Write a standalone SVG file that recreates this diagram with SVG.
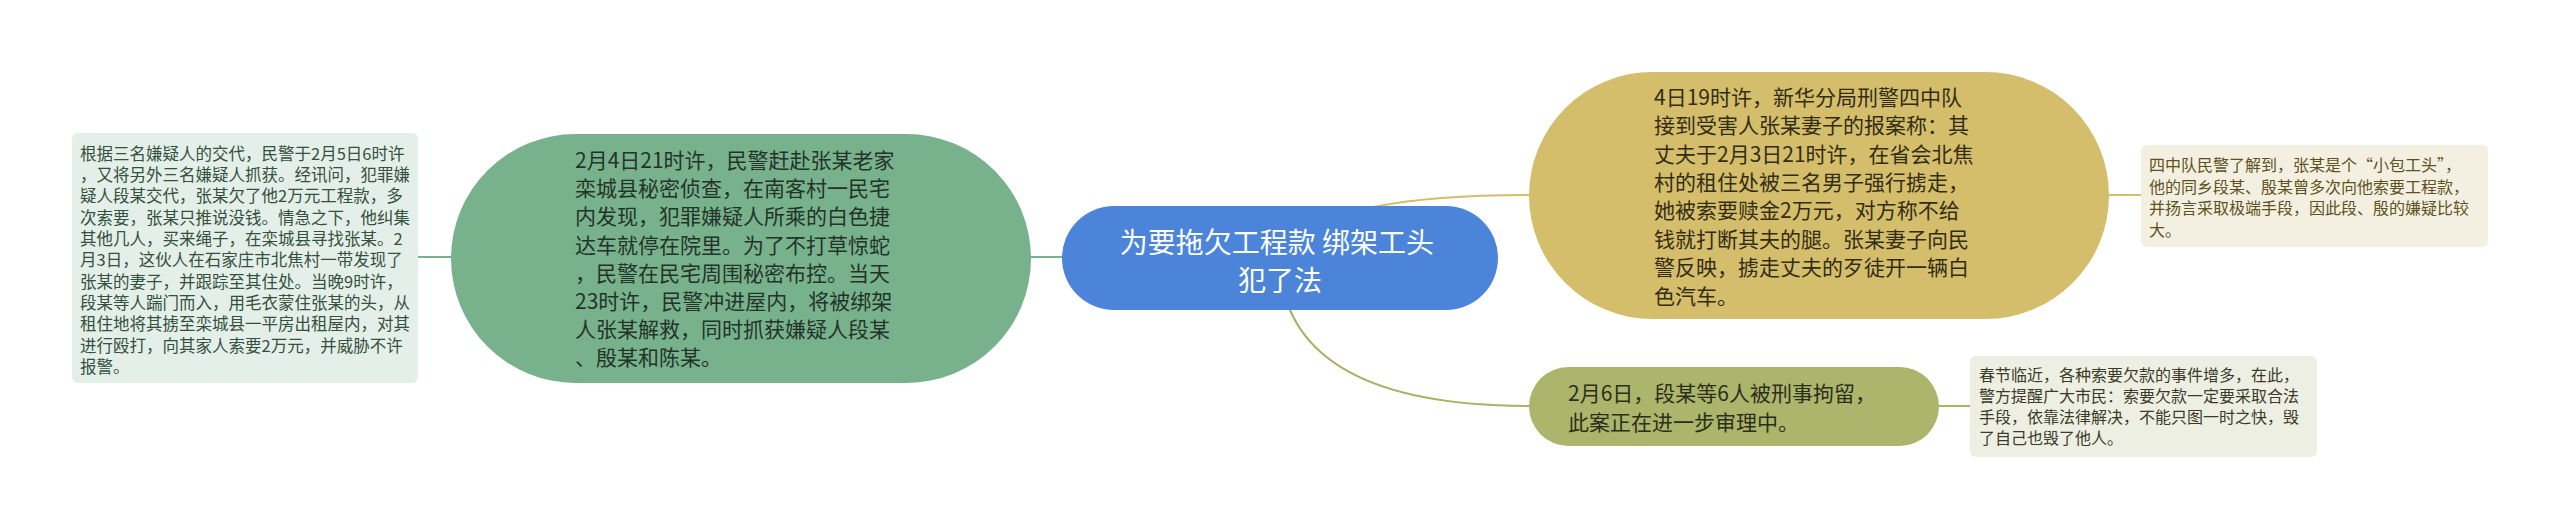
<svg xmlns="http://www.w3.org/2000/svg" width="2560" height="529" viewBox="0 0 2560 529">
<style>
text{font-family:"Noto Sans CJK SC","Noto Sans",sans-serif;}
.t16{font-size:16.5px;}
.t21{font-size:21px;}
.cen{font-size:28px;fill:#ffffff;text-anchor:middle;}
.c{fill:none;stroke-width:2.2;}
</style>
<rect width="2560" height="529" fill="#ffffff"/>
<g id="connectors">
<line class="c" x1="418" y1="257" x2="452" y2="257" stroke="#78b28c"/>
<line class="c" x1="1030" y1="257" x2="1063" y2="257" stroke="#78b28c"/>
<path class="c" d="M1300,240 Q1340,195 1530,195" stroke="#d4bd6b"/>
<path class="c" d="M1280,270 C1290,370 1390,406 1530,406" stroke="#a9b163"/>
<line class="c" x1="2108" y1="195" x2="2142" y2="195" stroke="#d4bd6b"/>
<line class="c" x1="1938" y1="406" x2="1971" y2="406" stroke="#a9b163"/>
</g>
<g id="node-left-note">
<rect x="72" y="133" width="346" height="250" rx="6" fill="#e5efe9"/>
<text class="t16" fill="#33513d">
<tspan x="80" y="159.5">根据三名嫌疑人的交代，民警于2月5日6时许</tspan>
<tspan x="80" y="180.8">，又将另外三名嫌疑人抓获。经讯问，犯罪嫌</tspan>
<tspan x="80" y="202.2">疑人段某交代，张某欠了他2万元工程款，多</tspan>
<tspan x="80" y="223.5">次索要，张某只推说没钱。情急之下，他纠集</tspan>
<tspan x="80" y="244.8">其他几人，买来绳子，在栾城县寻找张某。2</tspan>
<tspan x="80" y="266.2">月3日，这伙人在石家庄市北焦村一带发现了</tspan>
<tspan x="80" y="287.5">张某的妻子，并跟踪至其住处。当晚9时许，</tspan>
<tspan x="80" y="308.8">段某等人踹门而入，用毛衣蒙住张某的头，从</tspan>
<tspan x="80" y="330.2">租住地将其掳至栾城县一平房出租屋内，对其</tspan>
<tspan x="80" y="351.5">进行殴打，向其家人索要2万元，并威胁不许</tspan>
<tspan x="80" y="372.8">报警。</tspan>
</text>
</g>
<g id="node-green">
<rect x="451" y="134" width="580" height="249" rx="124.5" fill="#78b28c"/>
<text class="t21" fill="#243329">
<tspan x="575" y="168">2月4日21时许，民警赶赴张某老家</tspan>
<tspan x="575" y="196.2">栾城县秘密侦查，在南客村一民宅</tspan>
<tspan x="575" y="224.4">内发现，犯罪嫌疑人所乘的白色捷</tspan>
<tspan x="575" y="252.6">达车就停在院里。为了不打草惊蛇</tspan>
<tspan x="575" y="280.8">，民警在民宅周围秘密布控。当天</tspan>
<tspan x="575" y="309">23时许，民警冲进屋内，将被绑架</tspan>
<tspan x="575" y="337.2">人张某解救，同时抓获嫌疑人段某</tspan>
<tspan x="575" y="365.4">、殷某和陈某。</tspan>
</text>
</g>
<g id="node-center">
<rect x="1062" y="206" width="436" height="104" rx="52" fill="#4b84d9"/>
<text class="cen">
<tspan x="1280" y="252.5">为要拖欠工程款 绑架工头</tspan>
<tspan x="1280" y="290.5">犯了法</tspan>
</text>
</g>
<g id="node-yellow">
<rect x="1529" y="72" width="580" height="247" rx="123.5" fill="#d4bd6b"/>
<text class="t21" fill="#332d14">
<tspan x="1654" y="104.7">4日19时许，新华分局刑警四中队</tspan>
<tspan x="1654" y="133.1">接到受害人张某妻子的报案称：其</tspan>
<tspan x="1654" y="161.5">丈夫于2月3日21时许，在省会北焦</tspan>
<tspan x="1654" y="189.9">村的租住处被三名男子强行掳走，</tspan>
<tspan x="1654" y="218.3">她被索要赎金2万元，对方称不给</tspan>
<tspan x="1654" y="246.7">钱就打断其夫的腿。张某妻子向民</tspan>
<tspan x="1654" y="275.1">警反映，掳走丈夫的歹徒开一辆白</tspan>
<tspan x="1654" y="303.5">色汽车。</tspan>
</text>
</g>
<g id="node-yellow-note">
<rect x="2141" y="145" width="347" height="102" rx="6" fill="#f3f0e1"/>
<text class="t16" fill="#5e5020" style="font-size:16px">
<tspan x="2149" y="171">四中队民警了解到，张某是个“小包工头”，</tspan>
<tspan x="2149" y="192.7">他的同乡段某、殷某曾多次向他索要工程款，</tspan>
<tspan x="2149" y="214.4">并扬言采取极端手段，因此段、殷的嫌疑比较</tspan>
<tspan x="2149" y="236.1">大。</tspan>
</text>
</g>
<g id="node-olive">
<rect x="1529" y="367" width="410" height="79" rx="39.5" fill="#abb56b"/>
<text class="t21" fill="#2b2e1a">
<tspan x="1568" y="401">2月6日，段某等6人被刑事拘留，</tspan>
<tspan x="1568" y="430">此案正在进一步审理中。</tspan>
</text>
</g>
<g id="node-olive-note">
<rect x="1970" y="356" width="347" height="101" rx="6" fill="#eeefe3"/>
<text class="t16" fill="#3a3b28" style="font-size:16px">
<tspan x="1979" y="381">春节临近，各种索要欠款的事件增多，在此，</tspan>
<tspan x="1979" y="402">警方提醒广大市民：索要欠款一定要采取合法</tspan>
<tspan x="1979" y="423">手段，依靠法律解决，不能只图一时之快，毁</tspan>
<tspan x="1979" y="444">了自己也毁了他人。</tspan>
</text>
</g>
</svg>
